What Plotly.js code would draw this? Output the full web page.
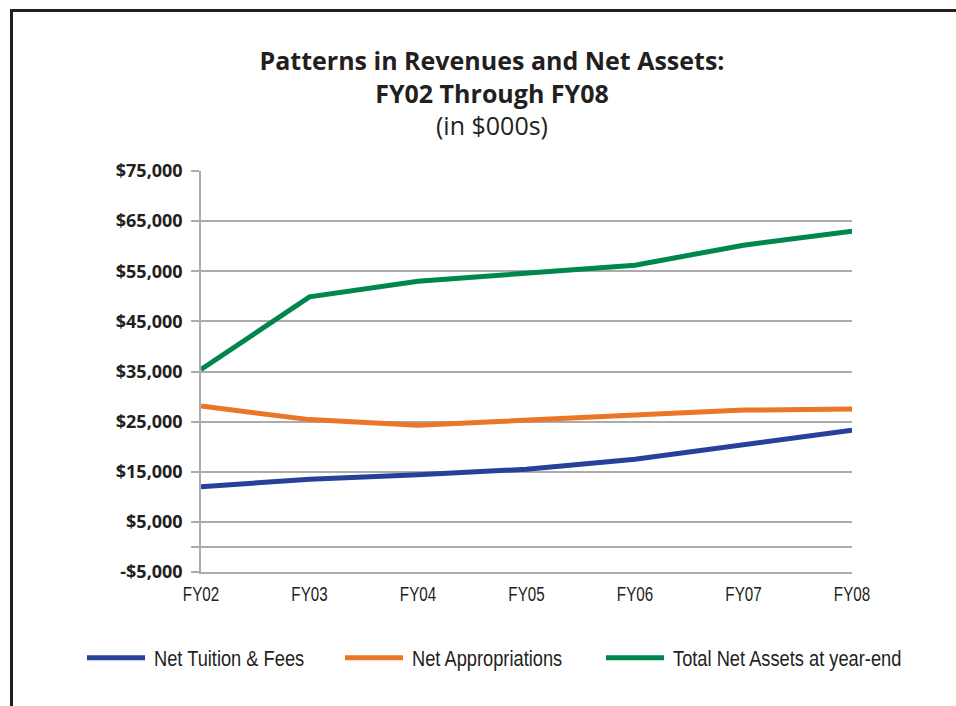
<!DOCTYPE html>
<html>
<head>
<meta charset="utf-8">
<script src="https://cdn.plot.ly/plotly-3.0.1.min.js"></script>
<style>
  html, body { margin: 0; padding: 0; background: #ffffff; }
  #wrap { position: relative; width: 956px; height: 706px; overflow: hidden; }
  #chart { position: absolute; left: 0; top: 0; width: 956px; height: 706px; }
  #frame { position: absolute; left: 10px; top: 9px; width: 1000px; height: 800px;
           border-left: 3px solid #231f20; border-top: 3px solid #231f20; pointer-events: none; }
</style>
</head>
<body>
<div id="wrap">
  <div id="chart"></div>
  <div id="frame"></div>
</div>
<script>
// ---- data ----
const categories = ["FY02", "FY03", "FY04", "FY05", "FY06", "FY07", "FY08"];
const netTuitionFees = [12000, 13500, 14400, 15500, 17500, 20300, 23300];
const netAppropriations = [28100, 25400, 24300, 25200, 26300, 27300, 27500];
const totalNetAssets = [35400, 49900, 53000, 54600, 56200, 60200, 63000];
const seriesNames = ["Net Tuition & Fees", "Net Appropriations", "Total Net Assets at year-end"];
const yTickVals = [-5000, 0, 5000, 15000, 25000, 35000, 45000, 55000, 65000, 75000];
const yTickText = ["-$5,000", "", "$5,000", "$15,000", "$25,000", "$35,000", "$45,000", "$55,000", "$65,000", "$75,000"];

const colors = ["#27409a", "#ea7626", "#00874b"];
const legendIds = ["legend", "legend2", "legend3"];
const legendLeft = [82, 340, 601];
const yMin = -5000, yMax = 75000;

const mk = (y, i) => ({
  x: categories, y: y, name: seriesNames[i], type: "scatter", mode: "lines",
  line: { color: colors[i], width: 5, shape: "linear" },
  legend: legendIds[i],
  hoverinfo: "x+y+name"
});

const traces = [mk(netTuitionFees, 0), mk(netAppropriations, 1), mk(totalNetAssets, 2)];

const grid = "#ababab";
const textColor = "#231f20";
const sansFamily = "'Liberation Sans', Arial, sans-serif";

const legendBase = (i) => ({
  orientation: "h", xref: "container", yref: "container",
  x: legendLeft[i] / 956, xanchor: "left", y: 1 - 658 / 706, yanchor: "middle",
  font: { family: sansFamily, size: 22, color: textColor },
  itemwidth: 58, bgcolor: "rgba(0,0,0,0)", borderwidth: 0
});

const layout = {
  width: 956, height: 706,
  paper_bgcolor: "rgba(0,0,0,0)", plot_bgcolor: "rgba(0,0,0,0)",
  margin: { l: 201, r: 104, t: 171, b: 134, pad: 0 },
  title: {
    text: "<b>Patterns in Revenues and Net Assets:</b><br><b>FY02 Through FY08</b><br>(in $000s)",
    font: { family: "'Open Sans', sans-serif", size: 25, color: textColor },
    xref: "container", x: 492 / 956, xanchor: "center",
    yref: "container", y: 1 - 70 / 706, yanchor: "top"
  },
  showlegend: true,
  legend: legendBase(0),
  legend2: legendBase(1),
  legend3: legendBase(2),
  xaxis: {
    type: "category", range: [0, 6],
    showgrid: false, zeroline: false,
    showline: true, linecolor: grid, linewidth: 1.5,
    ticks: "", showticklabels: true,
    ticklabelstandoff: 3,
    tickfont: { family: sansFamily, size: 20, color: textColor }
  },
  xaxis2: {
    type: "linear", overlaying: "x", anchor: "free",
    position: (0 - yMin) / (yMax - yMin),
    range: [0, 6], tickmode: "linear", tick0: 0, dtick: 1,
    showgrid: false, zeroline: false, showline: false,
    ticks: "outside", ticklen: 6, tickwidth: 1.5, tickcolor: grid,
    showticklabels: false
  },
  yaxis: {
    range: [yMin, yMax], tickmode: "array", tickvals: yTickVals, ticktext: yTickText,
    showgrid: true, gridcolor: grid, gridwidth: 1.5, zeroline: false,
    showline: true, linecolor: grid, linewidth: 1.5,
    ticks: "outside", ticklen: 8, tickwidth: 1.5, tickcolor: grid,
    ticklabelstandoff: 5,
    tickfont: { family: "'Open Sans', sans-serif", size: 18, color: textColor, weight: "bold" }
  }
};

// give the legend and category labels the condensed look of the original typeface
function squeeze(el, factor, shift) {
  if (el.getAttribute("data-squeezed") === "1") return;
  const w = el.getComputedTextLength();
  if (!w) return;
  el.setAttribute("lengthAdjust", "spacingAndGlyphs");
  el.setAttribute("textLength", (w * factor).toFixed(1));
  if (shift) {
    const x = parseFloat(el.getAttribute("x") || "0");
    el.setAttribute("x", (x + shift).toString());
  }
  el.setAttribute("data-squeezed", "1");
}
function condense() {
  const root = document.getElementById("chart");
  root.querySelectorAll("text").forEach(el => {
    const t = (el.textContent || "").trim();
    if (seriesNames.includes(t)) squeeze(el, 0.83, 4);
    else if (categories.includes(t)) squeeze(el, 0.76, 0);
  });
}

Plotly.newPlot("chart", traces, layout, { displayModeBar: false })
  .then(() => {
    condense();
    requestAnimationFrame(condense);
    setTimeout(condense, 30);
    setTimeout(condense, 150);
  });
</script>
</body>
</html>
